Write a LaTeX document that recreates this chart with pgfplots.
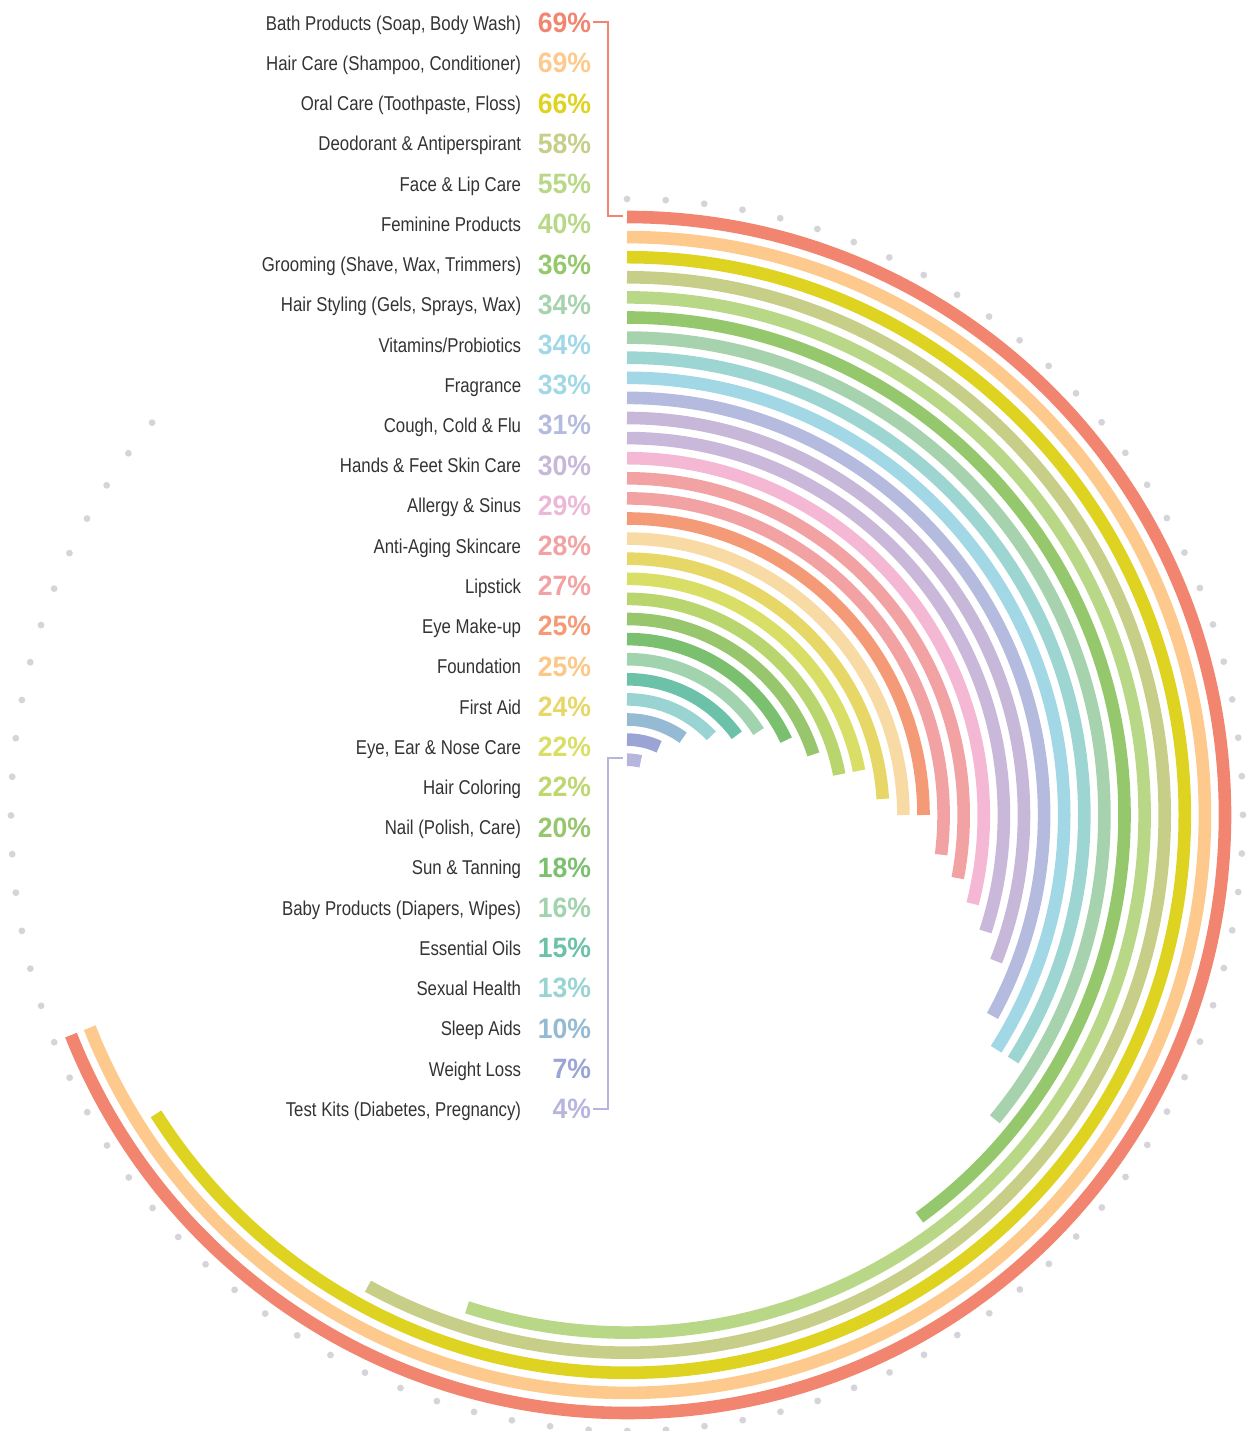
\documentclass[border=0pt]{standalone}
\usepackage{pgfplots}
\pgfplotsset{compat=1.18}
\usepackage{pgfplotstable}
\usepackage{fontspec}
\setmainfont{Liberation Sans}[FakeStretch=0.84]
\newfontfamily\pctfont{Liberation Sans}[FakeStretch=0.95]

\definecolor{B0}{RGB}{242,133,112}
\definecolor{B1}{RGB}{253,201,141}
\definecolor{B2}{RGB}{222,211,33}
\definecolor{B3}{RGB}{198,206,136}
\definecolor{B4}{RGB}{185,216,135}
\definecolor{B5}{RGB}{149,200,108}
\definecolor{B6}{RGB}{166,211,174}
\definecolor{B7}{RGB}{157,213,211}
\definecolor{B8}{RGB}{162,216,230}
\definecolor{B9}{RGB}{181,187,222}
\definecolor{B10}{RGB}{199,184,218}
\definecolor{B11}{RGB}{201,184,218}
\definecolor{B12}{RGB}{245,184,212}
\definecolor{B13}{RGB}{242,162,163}
\definecolor{B14}{RGB}{242,162,163}
\definecolor{B15}{RGB}{245,154,119}
\definecolor{B16}{RGB}{248,218,164}
\definecolor{B17}{RGB}{230,215,102}
\definecolor{B18}{RGB}{217,223,102}
\definecolor{B19}{RGB}{185,213,110}
\definecolor{B20}{RGB}{151,198,108}
\definecolor{B21}{RGB}{123,192,110}
\definecolor{B22}{RGB}{160,211,174}
\definecolor{B23}{RGB}{108,194,168}
\definecolor{B24}{RGB}{153,212,211}
\definecolor{B25}{RGB}{149,186,211}
\definecolor{B26}{RGB}{154,164,213}
\definecolor{B27}{RGB}{182,181,221}

\definecolor{L0}{RGB}{242,133,112}
\definecolor{L1}{RGB}{253,201,141}
\definecolor{L2}{RGB}{222,211,33}
\definecolor{L3}{RGB}{198,206,136}
\definecolor{L4}{RGB}{185,216,135}
\definecolor{L5}{RGB}{185,216,135}
\definecolor{L6}{RGB}{149,200,108}
\definecolor{L7}{RGB}{166,211,174}
\definecolor{L8}{RGB}{162,216,230}
\definecolor{L9}{RGB}{162,216,230}
\definecolor{L10}{RGB}{181,187,222}
\definecolor{L11}{RGB}{199,184,218}
\definecolor{L12}{RGB}{235,184,215}
\definecolor{L13}{RGB}{242,162,163}
\definecolor{L14}{RGB}{242,162,163}
\definecolor{L15}{RGB}{245,154,119}
\definecolor{L16}{RGB}{251,200,135}
\definecolor{L17}{RGB}{230,215,102}
\definecolor{L18}{RGB}{217,223,102}
\definecolor{L19}{RGB}{190,215,110}
\definecolor{L20}{RGB}{151,198,108}
\definecolor{L21}{RGB}{123,192,110}
\definecolor{L22}{RGB}{160,211,174}
\definecolor{L23}{RGB}{108,194,168}
\definecolor{L24}{RGB}{153,212,211}
\definecolor{L25}{RGB}{149,186,211}
\definecolor{L26}{RGB}{154,164,213}
\definecolor{L27}{RGB}{182,181,221}

\definecolor{txt}{RGB}{51,51,51}
\definecolor{dotc}{RGB}{212,212,218}

\pgfdeclareplotmark{nothing}{}
\pgfdeclareplotmark{radialbar}{%
  \pgfmathtruncatemacro\bi{\barid}%
  \pgfsetlinewidth{6.3pt}%
  \pgfsetbuttcap
  \pgfsetstrokecolor{B\bi}%
  \pgfmathsetmacro\arcend{90-3.6*\barval}%
  \pgfmathsetmacro\arcrad{0.5*\barrad}%
  \pgfpathmoveto{\pgfpointorigin}%
  \pgfpatharc{90}{\arcend}{\arcrad pt}%
  \pgfusepathqstroke
}

\pgfplotstableread[col sep=semicolon]{
idx;r;v;lab
0;598;69;Bath Products (Soap, Body Wash)
1;577.9;69;Hair Care (Shampoo, Conditioner)
2;557.8;66;Oral Care (Toothpaste, Floss)
3;537.7;58;Deodorant \& Antiperspirant
4;517.6;55;Face \& Lip Care
5;497.5;40;Feminine Products
6;477.4;36;Grooming (Shave, Wax, Trimmers)
7;457.3;34;Hair Styling (Gels, Sprays, Wax)
8;437.2;34;Vitamins/Probiotics
9;417.1;33;Fragrance
10;397.0;31;Cough, Cold \& Flu
11;376.9;30;Hands \& Feet Skin Care
12;356.8;29;Allergy \& Sinus
13;336.7;28;Anti-Aging Skincare
14;316.6;27;Lipstick
15;296.5;25;Eye Make-up
16;276.4;25;Foundation
17;256.3;24;First Aid
18;236.2;22;Eye, Ear \& Nose Care
19;216.1;22;Hair Coloring
20;196.0;20;Nail (Polish, Care)
21;175.9;18;Sun \& Tanning
22;155.8;16;Baby Products (Diapers, Wipes)
23;135.7;15;Essential Oils
24;115.6;13;Sexual Health
25;95.5;10;Sleep Aids
26;75.4;7;Weight Loss
27;55.3;4;Test Kits (Diabetes, Pregnancy)
}\data

\begin{document}
\begin{tikzpicture}
\begin{axis}[name=ax, x=0.5pt, y=0.5pt, xmin=0, xmax=1247, ymin=0, ymax=1431,
  hide axis, clip=false]
\path (axis cs:0,0) rectangle (axis cs:1247,1431);
% dotted guide ring
\draw[dotc, line width=3.4pt, line cap=round, dash pattern=on 0pt off 19.352pt]
  (axis cs:627,1232) arc[start angle=90, delta angle=-310, radius=308pt];
% radial bars
\addplot[scatter, only marks, mark=radialbar,
  visualization depends on={\thisrow{v}\as\barval},
  visualization depends on={\thisrow{r}\as\barrad},
  visualization depends on={\thisrow{idx}\as\barid},
  scatter/@pre marker code/.code={\pgfscope},
  scatter/@post marker code/.code={\endpgfscope},
] table[x expr=627, y expr=616+\thisrow{r}] {\data};
% brackets
\addplot[B0, line width=1pt, mark=none] coordinates {(593,1408.5) (608,1408.5) (608,1214.5) (623,1214.5)};
\addplot[B27, line width=1pt, mark=none] coordinates {(623,672.5) (608,672.5) (608,322) (593,322)};
% percentage labels
\addplot[only marks, mark=nothing,
  visualization depends on={\thisrow{v}\as\pctval},
  visualization depends on={\thisrow{idx}\as\pctid},
  nodes near coords={\pgfmathtruncatemacro\ci{\pctid}\pgfmathtruncatemacro\pv{\pctval}\textcolor{L\ci}{\pv\%}},
  nodes near coords align={anchor=base east},
  every node near coord/.append style={inner sep=0pt, anchor=base east,
    font=\pctfont\fontsize{14}{16}\selectfont\bfseries},
] table[x expr=591.5, y expr=1398.3-40.22*\thisrow{idx}] {\data};
% category labels
\addplot[only marks, mark=nothing, point meta=explicit symbolic,
  nodes near coords,
  nodes near coords align={anchor=base east},
  every node near coord/.append style={inner sep=0pt, anchor=base east, text=txt,
    font=\fontsize{10}{12}\selectfont},
] table[x expr=521.5, y expr=1400.7-40.22*\thisrow{idx}, meta=lab] {\data};
\end{axis}
\pgfresetboundingbox
\path[use as bounding box] (ax.south west) rectangle (ax.north east);
\end{tikzpicture}
\end{document}
